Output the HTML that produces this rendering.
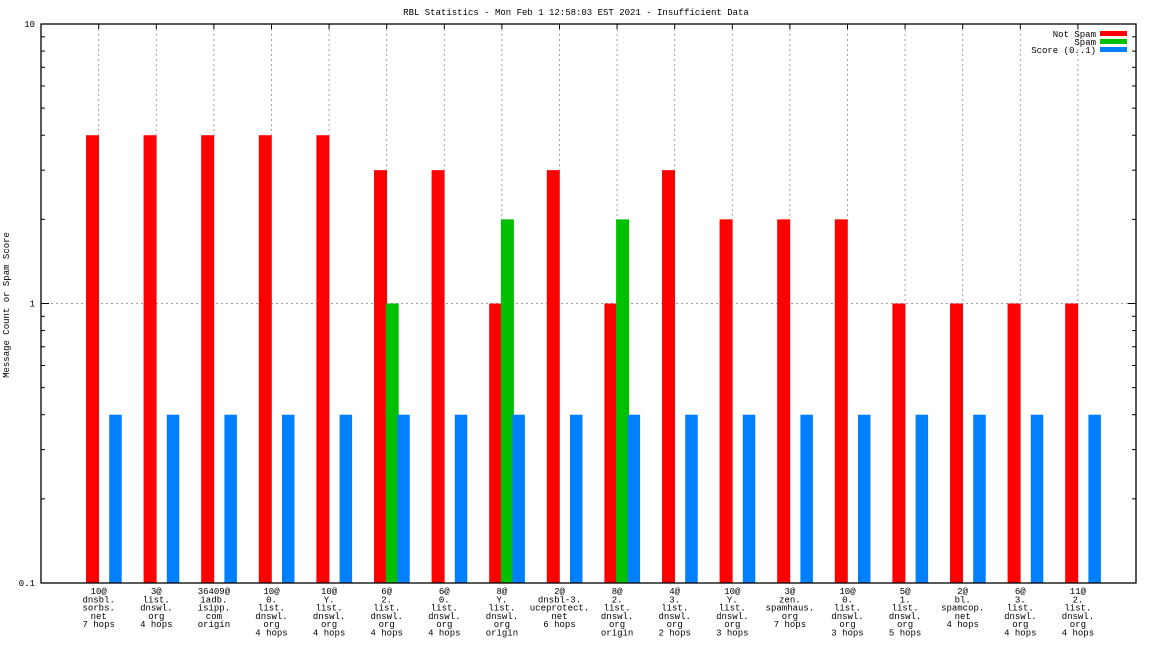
<!DOCTYPE html>
<html><head><meta charset="utf-8"><style>
html,body{margin:0;padding:0;background:#fff;}
svg{display:block;font-family:"Liberation Mono","DejaVu Sans Mono",monospace;font-size:9px;}
</style></head><body>
<svg id="c" width="1152" height="648" xmlns="http://www.w3.org/2000/svg">
<text x="576" y="15" text-anchor="middle">RBL Statistics - Mon Feb  1 12:58:03 EST 2021 - Insufficient Data</text>
<text transform="translate(9,305) rotate(-90)" text-anchor="middle">Message Count or Spam Score</text>
<g id="grid"></g><g id="bars"></g><g id="axes"></g><g id="xl"></g>
<g>
<text x="1096" y="37" text-anchor="end">Not Spam</text>
<rect x="1100" y="31" width="27" height="5" fill="#ff0000"/>
<text x="1096" y="45" text-anchor="end">Spam</text>
<rect x="1100" y="39" width="27" height="5" fill="#00c000"/>
<text x="1096" y="53" text-anchor="end">Score (0..1)</text>
<rect x="1100" y="47" width="27" height="5" fill="#0080ff"/>
</g>
</svg>
<script>
const categories=[
["10@","dnsbl.","sorbs.","net","7 hops"],["3@","list.","dnswl.","org","4 hops"],["36409@","iadb.","isipp.","com","origin"],
["10@","0.","list.","dnswl.","org","4 hops"],["10@","Y.","list.","dnswl.","org","4 hops"],["6@","2.","list.","dnswl.","org","4 hops"],
["6@","0.","list.","dnswl.","org","4 hops"],["8@","Y.","list.","dnswl.","org","origin"],["2@","dnsbl-3.","uceprotect.","net","6 hops"],
["8@","2.","list.","dnswl.","org","origin"],["4@","3.","list.","dnswl.","org","2 hops"],["10@","Y.","list.","dnswl.","org","3 hops"],
["3@","zen.","spamhaus.","org","7 hops"],["10@","0.","list.","dnswl.","org","3 hops"],["5@","1.","list.","dnswl.","org","5 hops"],
["2@","bl.","spamcop.","net","4 hops"],["6@","3.","list.","dnswl.","org","4 hops"],["11@","2.","list.","dnswl.","org","4 hops"]];
const notSpam=[4,4,4,4,4,3,3,1,3,1,3,2,2,2,1,1,1,1];
const spam=[0,0,0,0,0,1,0,2,0,2,0,0,0,0,0,0,0,0];
const score=[0.4,0.4,0.4,0.4,0.4,0.4,0.4,0.4,0.4,0.4,0.4,0.4,0.4,0.4,0.4,0.4,0.4,0.4];
const yTicks=[0.1,1,10];
const yTickLabels=["0.1","1","10"];
const NS="http://www.w3.org/2000/svg";
const L=41,R=1136,T=24,B=583;
function y(v){return B-(Math.log10(v)-Math.log10(0.1))/2*(B-T);}
function x(i){return 98.7+i*57.6;}
function mk(tag,attrs,parent){const e=document.createElementNS(NS,tag);for(const k in attrs)e.setAttribute(k,attrs[k]);document.getElementById(parent).appendChild(e);return e;}
// grid (visible only above red bars)
for(let i=0;i<categories.length;i++){
 const top=Math.max(notSpam[i],spam[i],score[i]);
 const g=mk('line',{x1:x(i),x2:x(i),y1:T,y2:y(top),stroke:'#a0a0a0','stroke-dasharray':'2,3'},'grid');
 
 
}
const gl=mk('line',{x1:L,x2:R,y1:y(1),y2:y(1),stroke:'#a0a0a0','stroke-dasharray':'2,3'},'grid');


// bars
for(let i=0;i<categories.length;i++){
 const cx=x(i);
 if(notSpam[i]>0){const r=mk('rect',{x:cx-12.7,y:y(notSpam[i]),width:13,height:B-y(notSpam[i]),fill:'#ff0000'},'bars');
  
  }
 if(spam[i]>0){const r=mk('rect',{x:cx-1,y:y(spam[i]),width:13,height:B-y(spam[i]),fill:'#00c000'},'bars');
  
  }
 if(score[i]>0){const r=mk('rect',{x:cx+10.5,y:y(score[i]),width:12.5,height:B-y(score[i]),fill:'#0080ff'},'bars');
  
  }
}
// axes
const fr=mk('rect',{x:L,y:T,width:R-L,height:B-T,fill:'none',stroke:'#000','stroke-width':1.3},'axes');


for(let d=-1;d<1;d++){for(let m=1;m<10;m++){const v=m*Math.pow(10,d);const yy=y(v);const len=m==1?8:4;
 mk('line',{x1:L,x2:L+len,y1:yy,y2:yy,stroke:'#000'},'axes');
 mk('line',{x1:R,x2:R-len,y1:yy,y2:yy,stroke:'#000'},'axes');}}
yTicks.forEach((v,k)=>{const t=mk('text',{x:L-6,y:y(v)+3,'text-anchor':'end'},'axes');t.textContent=yTickLabels[k];
 
 });
for(let i=0;i<categories.length;i++){
 mk('line',{x1:x(i),x2:x(i),y1:T,y2:T+5,stroke:'#000'},'axes');
 const t=mk('text',{x:x(i),y:594,'text-anchor':'middle'},'xl');
 
 
 categories[i].forEach((s,j)=>{const sp=document.createElementNS(NS,'tspan');sp.setAttribute('x',x(i));sp.setAttribute('dy',j?8.3:0);sp.textContent=s;t.appendChild(sp);});
}
</script>
</body></html>
